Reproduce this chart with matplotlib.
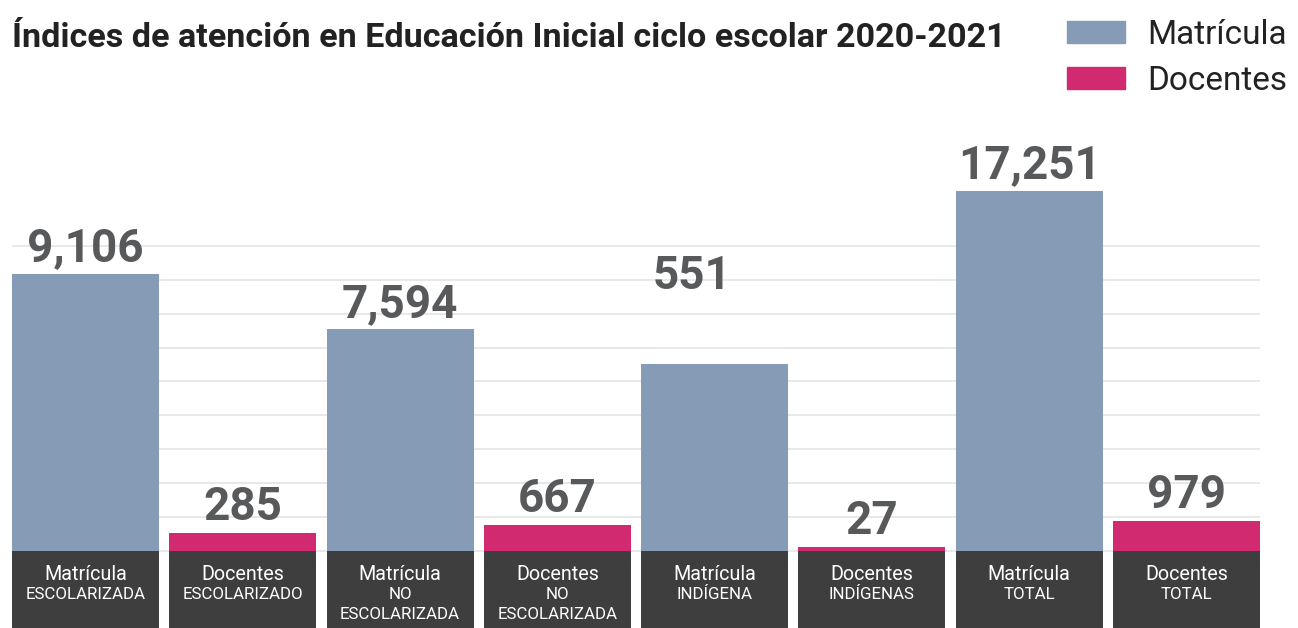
import matplotlib.pyplot as plt
from matplotlib.patches import Patch

plt.rcParams['font.family'] = ['Roboto', 'DejaVu Sans']

# data
series = ['Matrícula', 'Docentes', 'Matrícula', 'Docentes',
          'Matrícula', 'Docentes', 'Matrícula', 'Docentes']
groups = [['ESCOLARIZADA'], ['ESCOLARIZADO'], ['NO', 'ESCOLARIZADA'], ['NO', 'ESCOLARIZADA'],
          ['INDÍGENA'], ['INDÍGENAS'], ['TOTAL'], ['TOTAL']]
values = [9106, 285, 7594, 667, 551, 27, 17251, 979]
# bar heights as drawn in the original (grid units, not proportional to the values)
heights = [8.17, 0.54, 6.54, 0.77, 5.52, 0.12, 10.62, 0.89]

BLUE = '#869cb6'
PINK = '#d12a70'
DARK = '#3e3e3e'
GREY = '#58595b'
colors = [BLUE if s == 'Matrícula' else PINK for s in series]

W, H = 1298, 628
fig = plt.figure(figsize=(W / 100, H / 100), dpi=100)
ax = fig.add_axes([12 / W, 0, 1248 / W, 1 - 178 / H])
ax.set_xlim(-0.468, 7.468)
ax.set_ylim(-77 / 33.9, 11)
ax.axis('off')

x = list(range(len(values)))
for g in range(0, 10):
    ax.axhline(g, color='#e6e6e6', lw=1.3, zorder=0)

ax.bar(x, heights, width=0.936, color=colors, zorder=2)
ax.bar(x, [-77 / 33.9] * len(x), width=0.936, color=DARK, zorder=2)

# value labels (the 551 label sits higher in the original)
label_base = list(heights)
label_base[4] = 7.35
label_dx = [0, 0, 0, 0, -23, 0, 0, 0]
for xi, yb, v, dx in zip(x, label_base, values, label_dx):
    ax.annotate(f'{v:,}', (xi, yb), xytext=(dx * 0.72, 9), textcoords='offset points',
                ha='center', va='baseline', fontsize=33, fontweight='bold',
                color=GREY, zorder=3)

# category labels in the dark boxes
for xi, s, g in zip(x, series, groups):
    ax.text(xi, -0.68, s, ha='center', va='center', fontsize=14.2, color='white', zorder=3)
    for k, line in enumerate(g):
        ax.text(xi, -1.27 - 0.59 * k, line, ha='center', va='center',
                fontsize=12.2, color='white', zorder=3)

fig.text(12 / W, 1 - 47 / H, 'Índices de atención en Educación Inicial ciclo escolar 2020-2021',
         ha='left', va='baseline', fontsize=24.6, fontweight='bold', color='#222222')

handles = [Patch(color=BLUE, label='Matrícula'), Patch(color=PINK, label='Docentes')]
fig.legend(handles=handles, loc='upper right', bbox_to_anchor=(1287 / W, 1 - 19 / H),
           frameon=False, fontsize=24, handlelength=1.74, handleheight=0.63,
           handletextpad=0.66, labelspacing=0.42, labelcolor='#222222',
           borderaxespad=0, borderpad=0)

fig.savefig('out.png', dpi=100)
